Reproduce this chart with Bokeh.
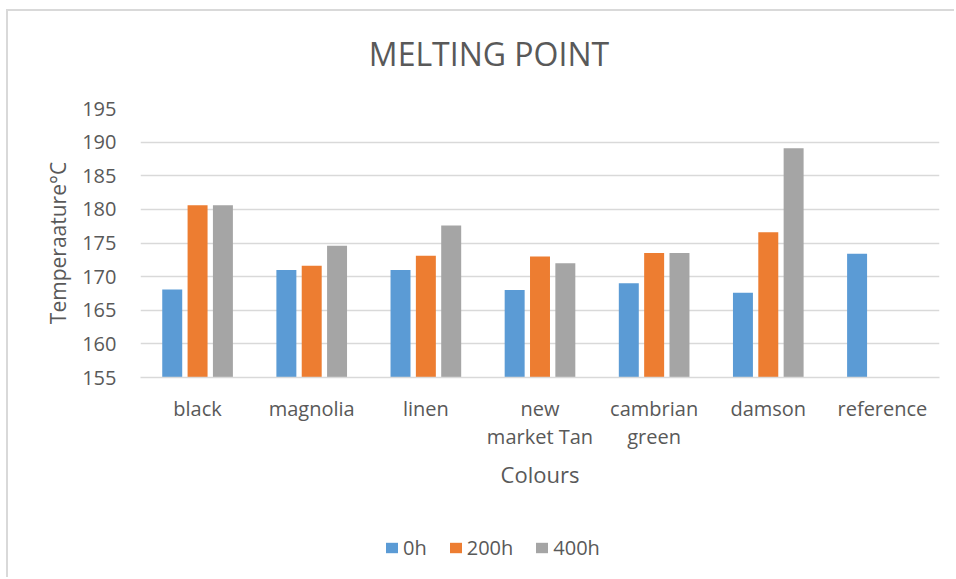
from bokeh.plotting import figure
from bokeh.layouts import column
from bokeh.models import (ColumnDataSource, FactorRange, Range1d, FixedTicker,
                          Legend, LegendItem, Label)
from bokeh.transform import dodge
from bokeh.embed import file_html
from bokeh.resources import INLINE

# Melting point (°C) of each colour after 0, 200 and 400 hours
categories = ["black", "magnolia", "linen", "new\nmarket Tan",
              "cambrian\ngreen", "damson", "reference"]
series_names = ["0h", "200h", "400h"]
melt_0h = [168.1, 171.0, 171.0, 168.0, 169.0, 167.6, 173.4]
melt_200h = [180.6, 171.6, 173.1, 173.0, 173.5, 176.6, float("nan")]
melt_400h = [180.6, 174.6, 177.6, 172.0, 173.5, 189.1, float("nan")]
y_ticks = [155, 160, 165, 170, 175, 180, 185, 190, 195]

colors = ["#5B9BD5", "#ED7D31", "#A5A5A5"]
text_color = "#595959"
grid_color = "#D9D9D9"
font = "Open Sans"
W = 946


def strip(height):
    """A blank full-width band used for the title and the legend."""
    s = figure(width=W, height=height, output_backend="svg",
               toolbar_location=None, x_axis_type=None, y_axis_type=None,
               x_range=Range1d(0, W), y_range=Range1d(0, height),
               min_border=0)
    s.outline_line_color = None
    s.background_fill_color = "white"
    s.border_fill_color = "white"
    return s


# --- title band (its frame lines up with the chart frame below) ---
top = strip(70)
top.add_layout(Label(x=348.5, y=28, x_units="screen", y_units="screen",
                     text="MELTING POINT", text_align="center",
                     text_baseline="middle", text_font=font,
                     text_font_size="32px", text_color=text_color))

# --- main chart ---
source = ColumnDataSource(data=dict(cat=categories, s0=melt_0h,
                                    s1=melt_200h, s2=melt_400h))

p = figure(width=W, height=439, output_backend="svg", toolbar_location=None,
           x_range=FactorRange(*categories), y_range=Range1d(155, 195),
           min_border_left=132, min_border_right=15,
           min_border_top=27, min_border_bottom=143)
p.outline_line_color = None
p.background_fill_color = "white"
p.border_fill_color = "white"

bar_w = 0.175
offsets = [-0.222, 0.0, 0.222]
for col, off, c in zip(["s0", "s1", "s2"], offsets, colors):
    p.vbar(x=dodge("cat", off, range=p.x_range), top=col, bottom=155,
           width=bar_w, source=source, fill_color=c, line_color=None)

p.xgrid.grid_line_color = None
p.ygrid.grid_line_color = grid_color
p.ygrid.grid_line_width = 1.5
p.yaxis.ticker = FixedTicker(ticks=y_ticks)

ya = p.yaxis[0]
ya.axis_line_color = None
ya.major_tick_line_color = None
ya.minor_tick_line_color = None
ya.major_label_standoff = 18
ya.major_label_text_font = font
ya.major_label_text_font_size = "20px"
ya.major_label_text_color = text_color
ya.axis_label = "Temperaature°C"
ya.axis_label_text_font = font
ya.axis_label_text_font_size = "21px"
ya.axis_label_text_font_style = "normal"
ya.axis_label_text_color = text_color
ya.axis_label_standoff = 7

xa = p.xaxis[0]
xa.axis_line_color = grid_color
xa.axis_line_width = 1.5
xa.major_tick_line_color = None
xa.minor_tick_line_color = None
xa.major_label_standoff = 11
xa.major_label_text_font = font
xa.major_label_text_font_size = "20px"
xa.major_label_text_color = text_color
xa.major_label_text_line_height = 1.05
xa.axis_label = "Colours"
xa.axis_label_text_font = font
xa.axis_label_text_font_size = "22px"
xa.axis_label_text_font_style = "normal"
xa.axis_label_text_color = text_color
xa.axis_label_standoff = 6

# --- legend band: one zero-size swatch source per series ---
bottom = strip(57)
keys = [bottom.vbar(x=[0], bottom=[0], top=[0], width=0,
                    fill_color=c, line_color=None)
        for c in colors]
legend = Legend(items=[LegendItem(label=n, renderers=[k])
                       for n, k in zip(series_names, keys)],
                orientation="horizontal", location=(244, 16),
                border_line_color=None, background_fill_alpha=0,
                padding=0, margin=0, spacing=21, label_standoff=4,
                glyph_width=15, glyph_height=13,
                label_text_font=font, label_text_font_size="20px",
                label_text_color=text_color)
bottom.add_layout(legend)

# chart-area border along the top and left edges
page = column(top, p, bottom, spacing=0,
              styles={"margin-left": "6px", "margin-top": "9px",
                      "border-left": "2px solid #D9D9D9",
                      "border-top": "2px solid #D9D9D9"})

open("out.html", "w").write(file_html(page, INLINE))
